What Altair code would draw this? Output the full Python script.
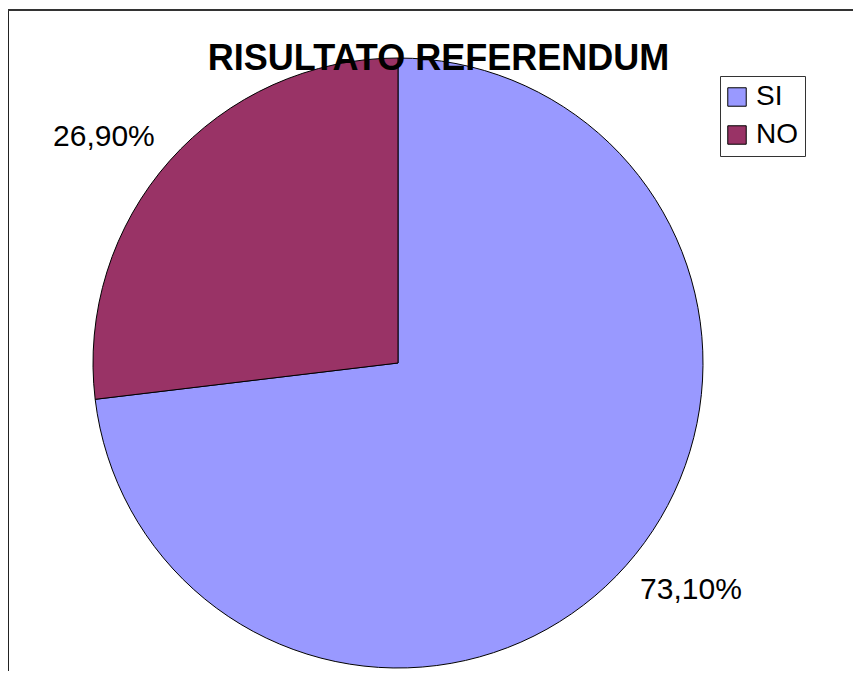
import altair as alt
import pandas as pd

categories = ["SI", "NO"]
values = [73.1, 26.9]
labels = ["73,10%", "26,90%"]
sides = ["right", "left"]
title_text = ["RISULTATO REFERENDUM"]
colors = ["#9999FF", "#993366"]

df = pd.DataFrame({"cat": categories, "val": values, "lab": labels, "side": sides,
                   "order": [0, 1]})

CX, CY, R = 390, 355, 305

color_scale = alt.Scale(domain=categories, range=colors)

base = alt.Chart(df).transform_joinaggregate(total="sum(val)").transform_window(
    cum="sum(val)", sort=[alt.SortField("order")]
).transform_calculate(
    mid="(datum.cum - datum.val / 2) / datum.total * 2 * PI",
)

pie = base.mark_arc(stroke="black", strokeWidth=1, radius=R).encode(
    theta=alt.Theta("val:Q", stack=True),
    order=alt.Order("order:Q"),
    color=alt.Color("cat:N", scale=color_scale, sort=categories,
                    legend=alt.Legend(title=None, orient="none", legendX=712, legendY=68,
                                      symbolType="square", symbolSize=340,
                                      symbolStrokeColor="black", symbolStrokeWidth=1,
                                      symbolOffset=-4,
                                      labelFontSize=28, labelFont="Liberation Sans",
                                      labelColor="black", labelOffset=5,
                                      rowPadding=10, padding=7,
                                      strokeColor="#333333", fillColor="white",
                                      symbolOpacity=1)),
    x=alt.value(CX), y=alt.value(CY),
)

lab_right = base.transform_filter(alt.datum.side == "right").mark_text(
    align="left", baseline="middle", fontSize=30, font="Liberation Sans", color="black"
).encode(
    x=alt.X("lx:Q", scale=None), y=alt.Y("ly:Q", scale=None), text="lab:N"
).transform_calculate(
    lx=f"{CX} + 332 * sin(datum.mid + 0.028)",
    ly=f"{CY} - 332 * cos(datum.mid + 0.028)",
)

lab_left = base.transform_filter(alt.datum.side == "left").mark_text(
    align="right", baseline="middle", fontSize=30, font="Liberation Sans", color="black"
).encode(
    x=alt.X("lx:Q", scale=None), y=alt.Y("ly:Q", scale=None), text="lab:N"
).transform_calculate(
    lx=f"{CX} + 332 * sin(datum.mid + 0.023)",
    ly=f"{CY} - 332 * cos(datum.mid + 0.023)",
)

title = alt.Chart(pd.DataFrame({"t": title_text})).mark_text(
    fontSize=36, fontWeight="bold", font="Liberation Sans", color="black",
    align="center", baseline="alphabetic"
).encode(x=alt.value(430.5), y=alt.value(62), text="t:N")

frame_left = alt.Chart(pd.DataFrame({"a": [0]})).mark_rule(color="#222222", strokeWidth=2).encode(
    x=alt.value(0), y=alt.value(1), y2=alt.value(700))
frame_top = alt.Chart(pd.DataFrame({"a": [0]})).mark_rule(color="#333333", strokeWidth=2).encode(
    x=alt.value(0), x2=alt.value(900), y=alt.value(2))

chart = alt.layer(frame_left, frame_top, pie, lab_right, lab_left, title).properties(
    width=845, height=663, padding=0, autosize=alt.AutoSizeParams(type="none")
).configure_view(stroke=None)

chart.save("out.html", embed_options={"renderer": "svg", "actions": False})
